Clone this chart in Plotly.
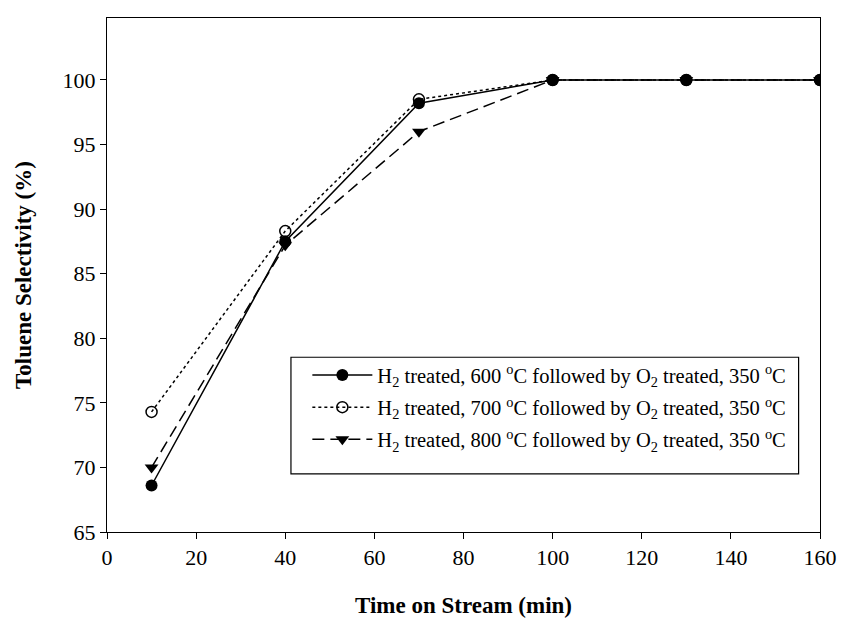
import plotly.graph_objects as go

# Time on stream (min)
time_min = [10, 40, 70, 100, 130, 160]

# Toluene selectivity (%) for each pretreatment
sel_600 = [68.6, 87.5, 98.2, 100.0, 100.0, 100.0]
sel_700 = [74.3, 88.3, 98.5, 100.0, 100.0, 100.0]
sel_800 = [70.0, 87.2, 96.0, 100.0, 100.0, 100.0]

labels = [
    "H<sub>2</sub> treated, 600 <sup>o</sup>C followed by O<sub>2</sub> treated, 350 <sup>o</sup>C",
    "H<sub>2</sub> treated, 700 <sup>o</sup>C followed by O<sub>2</sub> treated, 350 <sup>o</sup>C",
    "H<sub>2</sub> treated, 800 <sup>o</sup>C followed by O<sub>2</sub> treated, 350 <sup>o</sup>C",
]

x_ticks = [0, 20, 40, 60, 80, 100, 120, 140, 160]
y_ticks = [65, 70, 75, 80, 85, 90, 95, 100]

SERIF = "Liberation Serif, Times New Roman, serif"

fig = go.Figure()

fig.add_trace(go.Scatter(
    x=time_min, y=sel_600, name=labels[0], mode="lines+markers",
    legendgroup="g600",
    line=dict(color="black", width=1.5, dash="solid"),
    marker=dict(symbol="circle", size=12, color="black"),
))
fig.add_trace(go.Scatter(
    x=time_min, y=sel_700, name=labels[1], mode="lines+markers",
    legendgroup="g700",
    line=dict(color="black", width=1.5, dash="dot"),
    marker=dict(symbol="circle-open", size=11, color="black",
                line=dict(width=1.5, color="black")),
))
fig.add_trace(go.Scatter(
    x=time_min, y=sel_800, name=labels[2], mode="lines+markers",
    legendgroup="g800",
    line=dict(color="black", width=1.5, dash="12px,6px"),
    marker=dict(symbol="triangle-down", size=12, color="black"),
))

axis_common = dict(
    showgrid=False, zeroline=False, showline=True, linecolor="black",
    linewidth=1, mirror=True, ticks="outside", ticklen=6, tickcolor="black",
    tickwidth=1, tickfont=dict(family=SERIF, size=22, color="black"),
    automargin=False,
)

# Framed legend panel (drawn as a shape so its padding can be set freely)
fig.add_shape(
    type="rect", xref="paper", yref="paper",
    x0=0.258, x1=0.970, y0=0.113, y1=0.340,
    line=dict(color="black", width=1.2), fillcolor="white", layer="above",
)

fig.update_layout(
    width=842, height=621,
    margin=dict(l=107, r=22, t=18, b=89, autoexpand=False),
    paper_bgcolor="white", plot_bgcolor="white",
    font=dict(family=SERIF, color="black"),
    xaxis=dict(
        range=[0, 160], tickvals=x_ticks,
        title=dict(text="<b>Time on Stream (min)</b>",
                   font=dict(family=SERIF, size=23), standoff=27),
        **axis_common,
    ),
    yaxis=dict(
        range=[65, 104.8], tickvals=y_ticks,
        title=dict(text="<b>Toluene Selectivity (%)</b>",
                   font=dict(family=SERIF, size=23), standoff=24),
        **axis_common,
    ),
    legend=dict(
        x=0.281, y=0.344, xanchor="left", yanchor="top",
        bgcolor="rgba(0,0,0,0)", borderwidth=0,
        font=dict(family=SERIF, size=20.5, color="black"),
        itemwidth=60, tracegroupgap=2.5,
    ),
    showlegend=True,
)

fig.write_html("out.html")
